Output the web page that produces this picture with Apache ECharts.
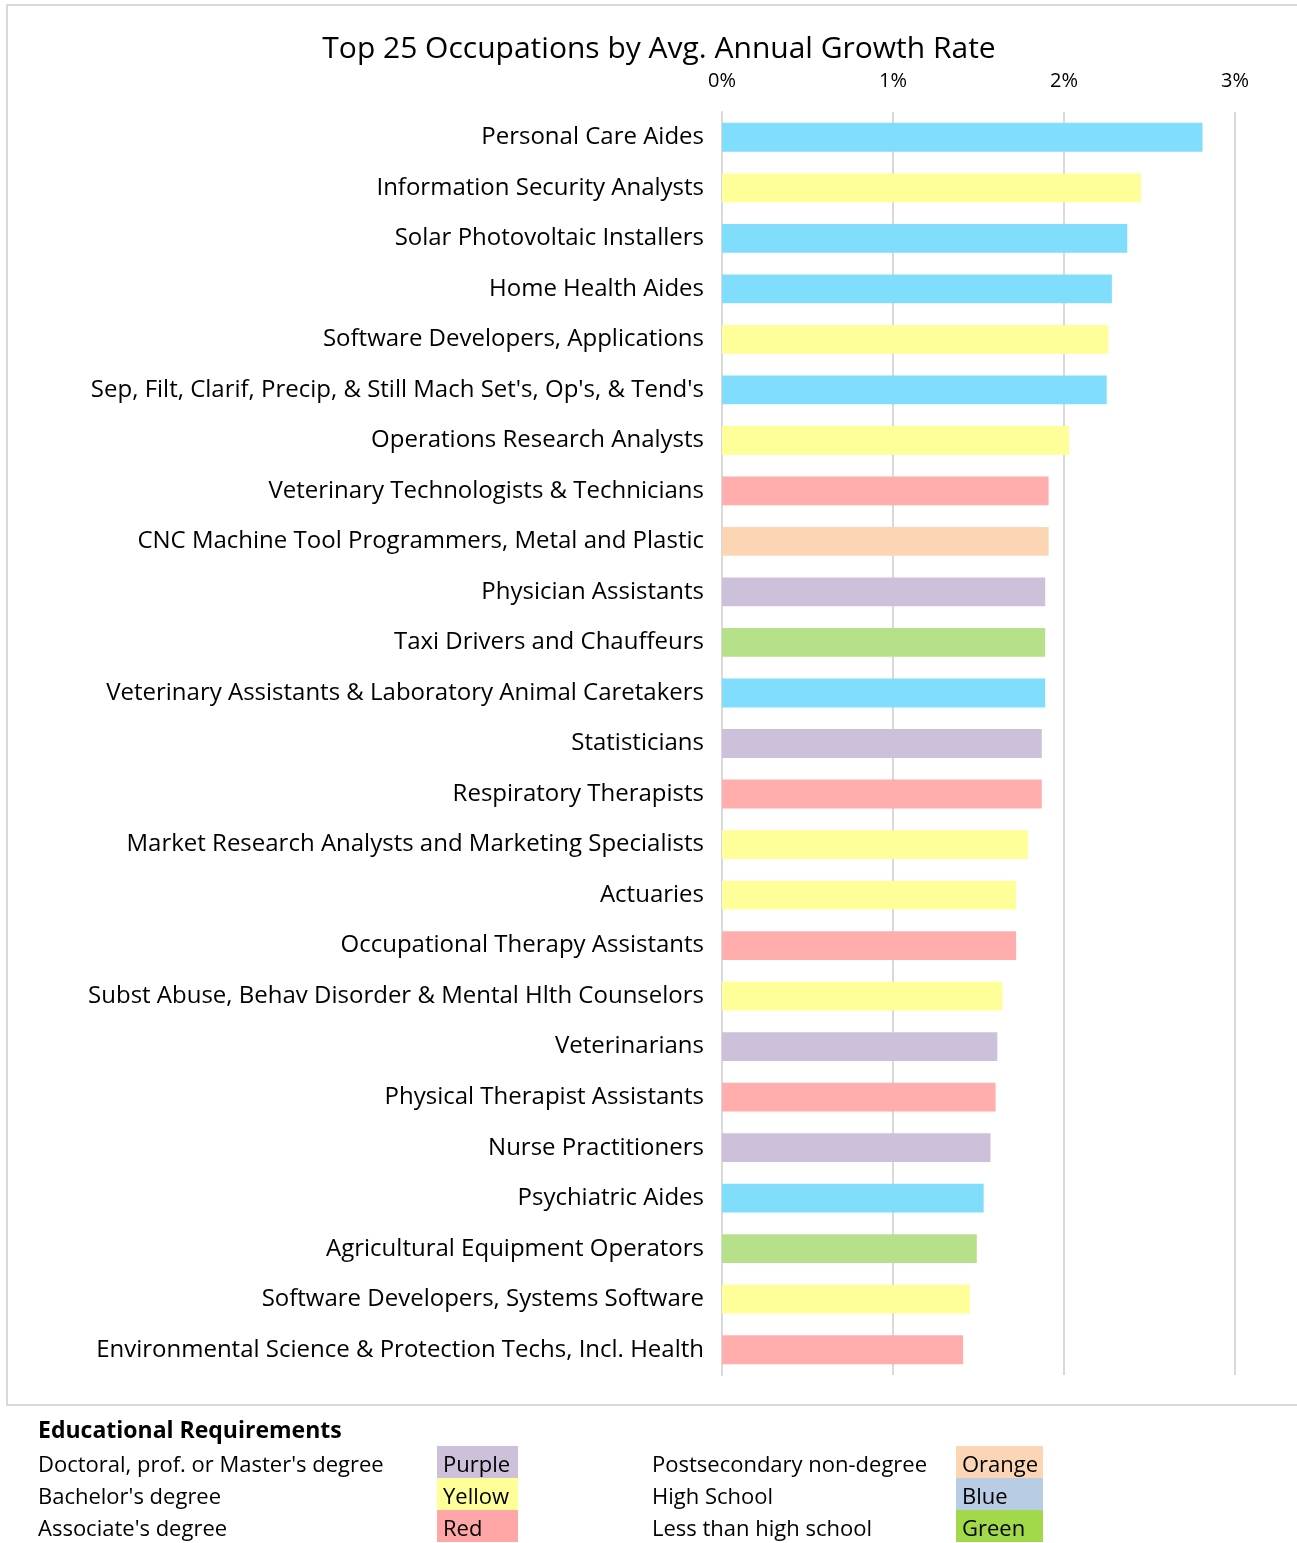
<!DOCTYPE html>
<html>
<head>
<meta charset="utf-8">
<style>
  html, body { margin: 0; padding: 0; background: #fff; }
  #chart { width: 1297px; height: 1543px; }
</style>
<script src="https://cdn.jsdelivr.net/npm/echarts@6/dist/echarts.min.js"></script>
</head>
<body>
<div id="chart"></div>
<script>
var FONT = '"Open Sans", Lato, "Noto Sans", sans-serif';

var occupations = [
  'Personal Care Aides',
  'Information Security Analysts',
  'Solar Photovoltaic Installers',
  'Home Health Aides',
  'Software Developers, Applications',
  "Sep, Filt, Clarif, Precip, & Still Mach Set's, Op's, & Tend's",
  'Operations Research Analysts',
  'Veterinary Technologists & Technicians',
  'CNC Machine Tool Programmers, Metal and Plastic',
  'Physician Assistants',
  'Taxi Drivers and Chauffeurs',
  'Veterinary Assistants & Laboratory Animal Caretakers',
  'Statisticians',
  'Respiratory Therapists',
  'Market Research Analysts and Marketing Specialists',
  'Actuaries',
  'Occupational Therapy Assistants',
  'Subst Abuse, Behav Disorder & Mental Hlth Counselors',
  'Veterinarians',
  'Physical Therapist Assistants',
  'Nurse Practitioners',
  'Psychiatric Aides',
  'Agricultural Equipment Operators',
  'Software Developers, Systems Software',
  'Environmental Science & Protection Techs, Incl. Health'
];

var growthRate = [
  2.81, 2.45, 2.37, 2.28, 2.26, 2.25, 2.03, 1.91, 1.91, 1.89,
  1.89, 1.89, 1.87, 1.87, 1.79, 1.72, 1.72, 1.64, 1.61, 1.60,
  1.57, 1.53, 1.49, 1.45, 1.41
];

var education = [
  'hs', 'ba', 'hs', 'hs', 'ba', 'hs', 'ba', 'as', 'ps', 'ma',
  'lt', 'hs', 'ma', 'as', 'ba', 'ba', 'as', 'ba', 'ma', 'as',
  'ma', 'hs', 'lt', 'ba', 'as'
];

var xTicks = ['0%', '1%', '2%', '3%'];

var barColors = {
  ma: '#ccc0da', ba: '#ffff99', as: '#ffadad',
  ps: '#fcd5b4', hs: '#80ddfc', lt: '#b7e08a'
};

var legendRows = [
  ["Doctoral, prof. or Master's degree", 'Purple', '#ccc0da', 'Postsecondary non-degree', 'Orange', '#fcd5b4'],
  ["Bachelor's degree", 'Yellow', '#ffff99', 'High School', 'Blue', '#b8cce4'],
  ["Associate's degree", 'Red', '#ffa7a7', 'Less than high school', 'Green', '#a2d94a']
];

var chart = echarts.init(document.getElementById('chart'));

var graphics = [
  {
    type: 'rect', z: -10,
    shape: { x: 7, y: 5, width: 1300, height: 1400 },
    style: { fill: '#fff', stroke: '#d9d9d9', lineWidth: 2 }
  },
  {
    type: 'text', left: 38, top: 1420,
    style: { text: 'Educational Requirements', font: 'bold 23px ' + FONT, fill: '#000' }
  }
];
legendRows.forEach(function (r, i) {
  var y = 1446 + i * 32;
  graphics.push(
    { type: 'text', left: 38, top: y + 9, style: { text: r[0], font: '22px ' + FONT, fill: '#000' } },
    { type: 'rect', shape: { x: 437, y: y, width: 81, height: 32 }, style: { fill: r[2] } },
    { type: 'text', left: 443, top: y + 9, style: { text: r[1], font: '22px ' + FONT, fill: '#000' } },
    { type: 'text', left: 652, top: y + 9, style: { text: r[3], font: '22px ' + FONT, fill: '#000' } },
    { type: 'rect', shape: { x: 956, y: y, width: 87, height: 32 }, style: { fill: r[5] } },
    { type: 'text', left: 962, top: y + 9, style: { text: r[4], font: '22px ' + FONT, fill: '#000' } }
  );
});

var option = {
  animation: false,
  backgroundColor: '#fff',
  title: {
    text: 'Top 25 Occupations by Avg. Annual Growth Rate',
    left: 654, top: 29, textAlign: 'center',
    textStyle: { fontFamily: FONT, fontSize: 30, fontWeight: 'normal', color: '#000' }
  },
  grid: { left: 722, right: 62, top: 112, bottom: 168, containLabel: false },
  xAxis: {
    type: 'value', position: 'top', min: 0, max: 3, interval: 1,
    axisLine: { show: false }, axisTick: { show: false },
    splitLine: { lineStyle: { color: '#d9d9d9', width: 2 } },
    axisLabel: {
      fontFamily: FONT, fontSize: 20, color: '#000', margin: 21,
      formatter: function (v) { return xTicks[Math.round(v)]; }
    }
  },
  yAxis: {
    type: 'category', inverse: true, data: occupations,
    axisLine: { show: true, lineStyle: { color: '#d9d9d9', width: 2 } },
    axisTick: { show: false },
    axisLabel: {
      fontFamily: FONT, fontSize: 24, color: '#000', margin: 18,
      padding: [8, 0, 0, 0]
    }
  },
  series: [{
    type: 'bar',
    barWidth: '57%',
    data: growthRate.map(function (v, i) {
      return { value: v, itemStyle: { color: barColors[education[i]] } };
    })
  }],
  graphic: graphics
};

chart.setOption(option);
</script>
</body>
</html>
